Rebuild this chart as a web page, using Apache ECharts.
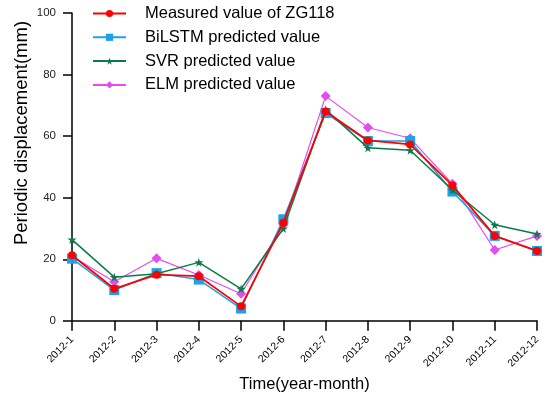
<!DOCTYPE html>
<html><head><meta charset="utf-8">
<script src="https://cdn.jsdelivr.net/npm/echarts@6/dist/echarts.min.js"></script>
<style>html,body{margin:0;padding:0;background:#fff}#c{width:550px;height:398px}</style>
</head><body><div id="c"></div>
<script>
var categories = ['2012-1','2012-2','2012-3','2012-4','2012-5','2012-6','2012-7','2012-8','2012-9','2012-10','2012-11','2012-12'];
var measured = [21.3, 10.4, 15.0, 14.5, 4.7, 31.9, 68.0, 58.6, 57.3, 44.0, 27.6, 22.7];
var bilstm   = [20.2, 10.0, 15.5, 13.4, 4.0, 33.0, 67.5, 58.4, 58.4, 42.0, 27.6, 22.7];
var svr      = [26.4, 14.2, 15.3, 19.0, 10.4, 30.0, 68.6, 56.2, 55.4, 42.5, 31.2, 28.2];
var elm      = [21.0, 12.7, 20.3, 14.9, 8.8, 31.2, 73.0, 62.8, 59.3, 44.5, 23.0, 27.6];
var yTicks = [0, 20, 40, 60, 80, 100];

var FONT = 'Liberation Sans, Arial, sans-serif';
var chart = echarts.init(document.getElementById('c'));
function s(name, data, color, symbol, size, z, w) {
  return {name: name, type: 'line', data: data, symbol: symbol, symbolSize: size, z: z,
    itemStyle: {color: color}, lineStyle: {color: color, width: w}, animation: false};
}
chart.setOption({
  animation: false,
  grid: {left: 72, right: 13, top: 13, bottom: 76, containLabel: false},
  legend: {
    orient: 'vertical', left: 92, top: 5, padding: 0, itemWidth: 33, itemHeight: 9, itemGap: 6.8,
    textStyle: {fontFamily: FONT, fontSize: 16.5, color: '#000', padding: [0, 0, 0, 14]},
    data: ['Measured value of ZG118', 'BiLSTM predicted value', 'SVR predicted value', 'ELM predicted value']
  },
  graphic: [{
    type: 'text', x: 22, y: 133, rotation: Math.PI / 2,
    style: {text: 'Periodic displacement(mm)', font: '18.5px ' + FONT, fill: '#000',
      textAlign: 'center', textVerticalAlign: 'middle'}
  }],
  xAxis: {
    type: 'category', data: categories, boundaryGap: false,
    name: 'Time(year-month)', nameLocation: 'middle', nameGap: 55,
    nameTextStyle: {fontFamily: FONT, fontSize: 16.5, color: '#000'},
    axisLine: {lineStyle: {color: '#000', width: 1.5}},
    axisTick: {show: true, length: 10, alignWithLabel: true, lineStyle: {color: '#000', width: 1.5}},
    axisLabel: {rotate: 45, fontFamily: FONT, fontSize: 10.5, color: '#000', margin: 17, interval: 0},
    splitLine: {show: false}
  },
  yAxis: {
    type: 'value', min: yTicks[0], max: yTicks[yTicks.length - 1], interval: 20,
    axisLine: {show: true, lineStyle: {color: '#000', width: 1.5}},
    axisTick: {show: true, length: 9, lineStyle: {color: '#000', width: 1.5}},
    axisLabel: {fontFamily: FONT, fontSize: 11.5, color: '#222', margin: 16},
    splitLine: {show: false}
  },
  series: [
    s('Measured value of ZG118', measured, '#FF0000', 'circle', 8, 5, 1.8),
    s('BiLSTM predicted value', bilstm, '#1AA3EC', 'rect', 10, 3, 1.5),
    s('SVR predicted value', svr, '#0B7B4B', 'path://M50 0 L61 35 L98 35 L68 57 L79 91 L50 70 L21 91 L32 57 L2 35 L39 35 Z', 9, 4, 1.5),
    s('ELM predicted value', elm, '#E44CF0', 'diamond', 10, 2, 1.2)
  ]
});
</script></body></html>
